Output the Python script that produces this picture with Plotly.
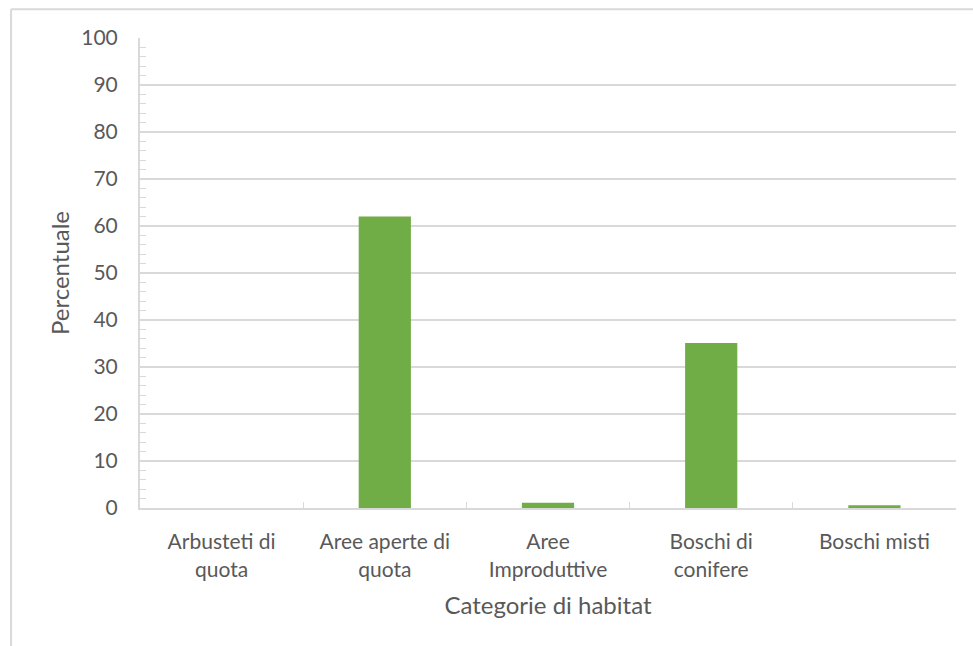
import plotly.graph_objects as go

# Habitat categories and the share of each (percent)
categorie = ["Arbusteti di<br>quota", "Aree aperte di<br>quota", "Aree<br>Improduttive",
             "Boschi di<br>conifere", "Boschi misti"]
percentuale = [0.0, 62.0, 1.1, 35.1, 0.6]

TEXT = "#595959"
GRID = "#d9d9d9"
FONT = "Lato, 'Open Sans', sans-serif"

fig = go.Figure(
    go.Bar(x=categorie, y=percentuale, marker=dict(color="#70ad47", line=dict(width=0)))
)

fig.update_layout(
    width=973, height=646,
    margin=dict(l=140, r=17, t=38, b=138),
    paper_bgcolor="white", plot_bgcolor="white",
    bargap=0.68,
    showlegend=False,
    font=dict(family=FONT, color=TEXT, size=20),
    shapes=[
        # light frame around the chart area (top and left edges)
        dict(type="line", xref="paper", yref="paper", x0=-0.158, x1=1.03, y0=1.061, y1=1.061,
             line=dict(color=GRID, width=2)),
        dict(type="line", xref="paper", yref="paper", x0=-0.158, x1=-0.158, y0=1.061, y1=-0.3,
             line=dict(color=GRID, width=2)),
    ],
)

fig.update_yaxes(
    range=[0, 100], dtick=10, showgrid=True, gridcolor=GRID, gridwidth=1.5,
    showline=True, linecolor=GRID, linewidth=2,
    ticks="inside", ticklen=6, tickcolor=GRID,
    minor=dict(dtick=2, ticks="inside", ticklen=6, tickcolor=GRID, showgrid=False),
    tickfont=dict(size=21, color=TEXT), ticklabelstandoff=16,
    title=dict(text="Percentuale", font=dict(size=24, color=TEXT), standoff=5),
    zeroline=False, fixedrange=True,
)

fig.update_xaxes(
    showline=True, linecolor=GRID, linewidth=2,
    ticks="inside", tickson="boundaries", ticklen=6, tickcolor=GRID,
    tickfont=dict(size=21, color=TEXT), ticklabelstandoff=14,
    title=dict(text="Categorie di habitat", font=dict(size=24, color=TEXT), standoff=18),
    showgrid=False, fixedrange=True,
)

fig.write_html("out.html")
